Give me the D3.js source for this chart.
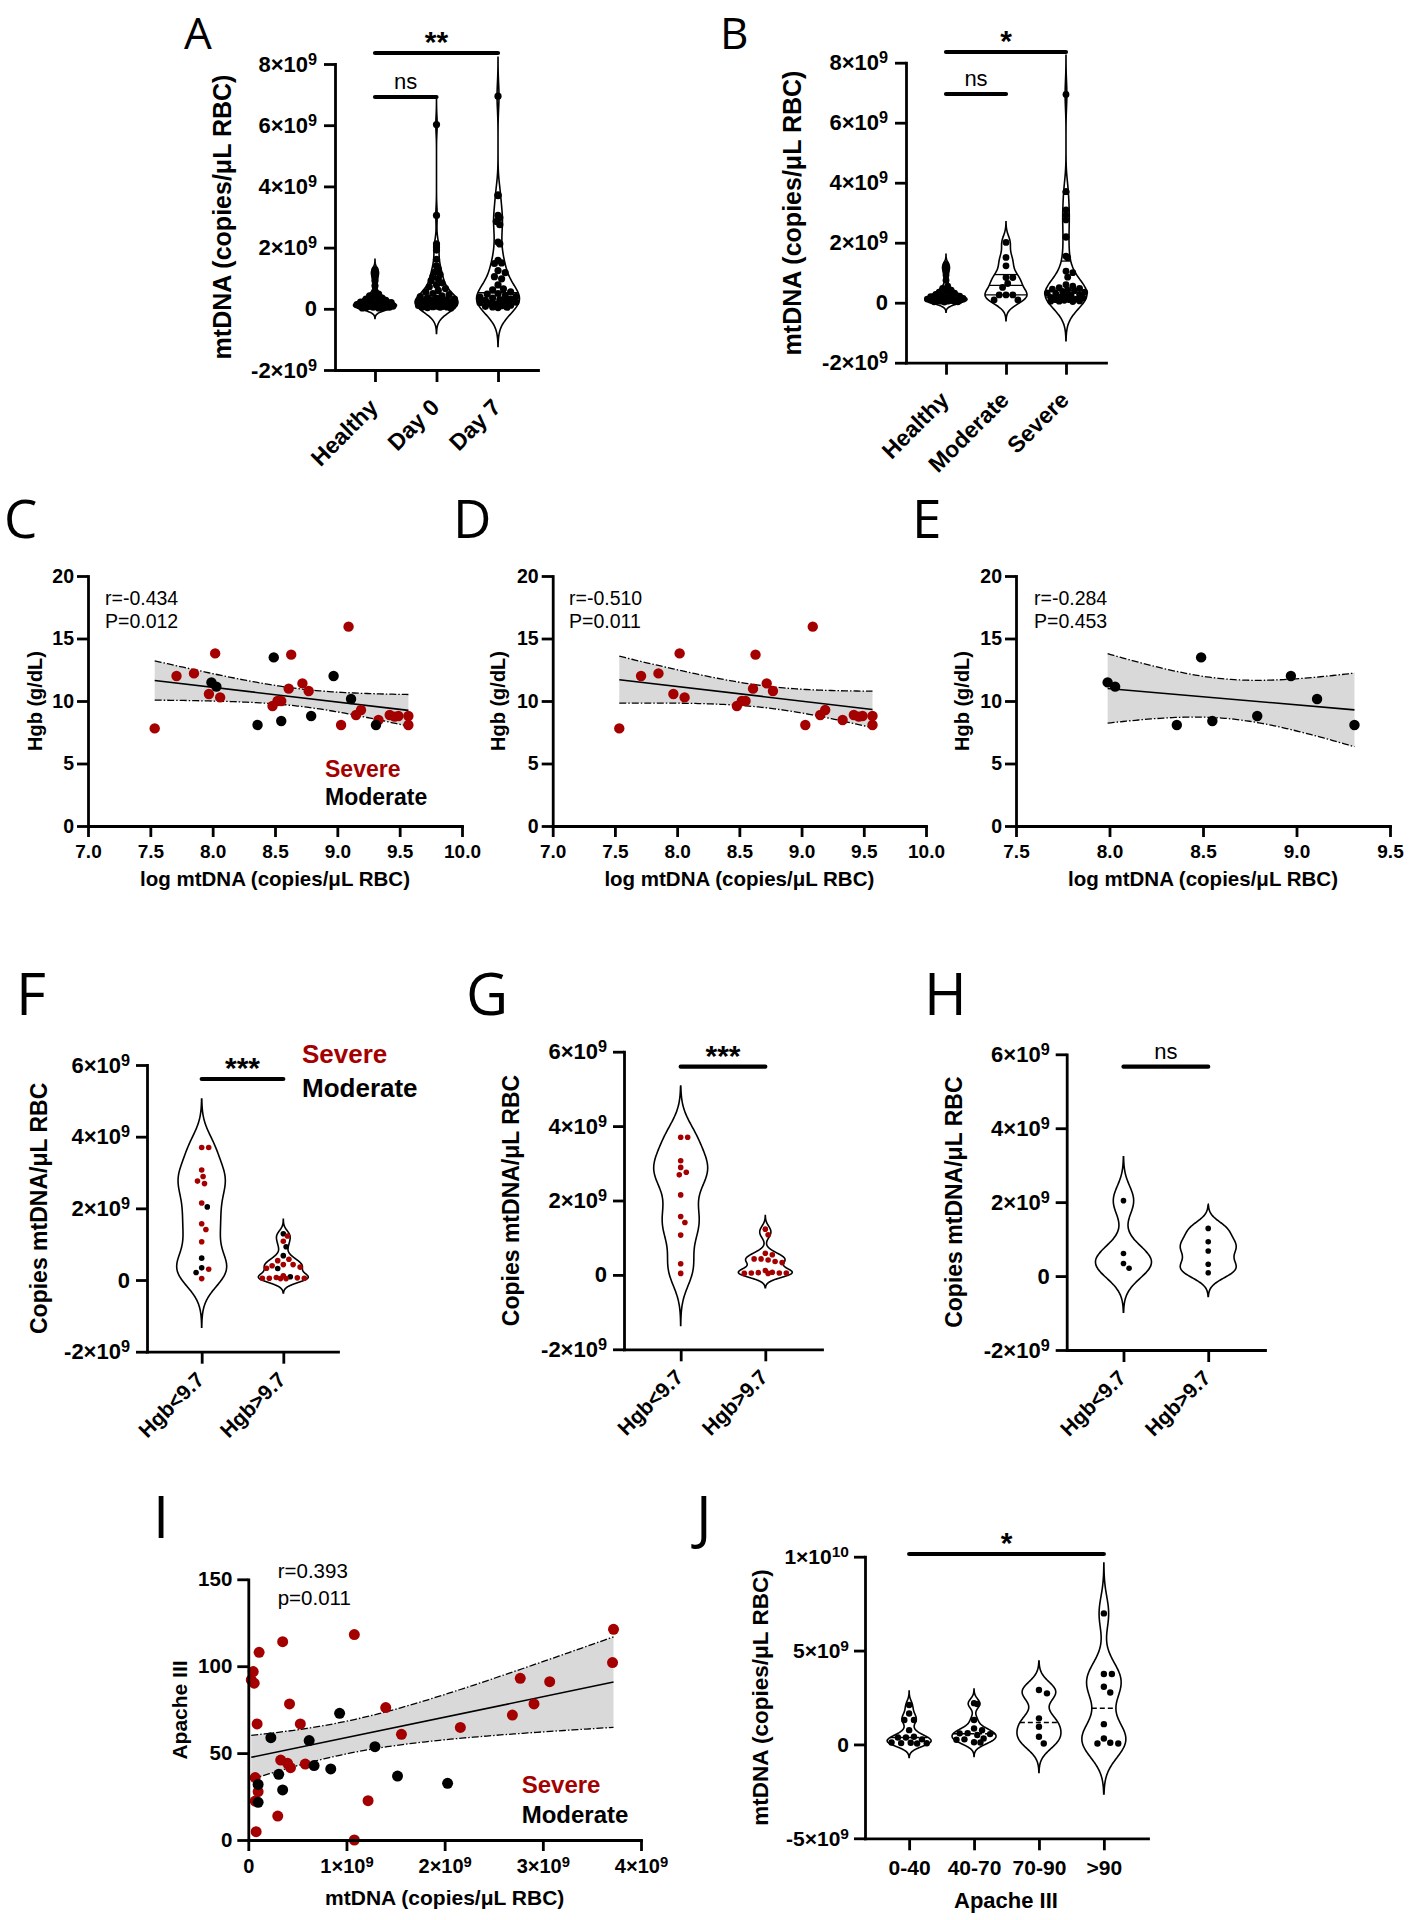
<!DOCTYPE html>
<html><head><meta charset="utf-8">
<script src="https://cdn.jsdelivr.net/npm/d3@7"></script>
<style>
body{margin:0;background:#fff;}
svg{display:block;}
</style></head><body>
<script>
// ---------------- DATA (mtDNA values in units of 1e9 copies/µL RBC) ----------------
const catsA = ["Healthy", "Day 0", "Day 7"];
const healthyA = [1.28,1.22,1.15,1.05,0.92,0.75,0.55,0.48,0.42,0.38,0.35,0.32,0.30,0.28,0.25,0.22,0.20,0.18,0.16,0.15,0.14,0.12,0.11,0.10,0.09,0.08,0.08,0.07,0.06,0.05,0.05,0.04,0.03,0.03,0.02];
const day0A = [6.02,3.05,2.12,2.02,1.92,1.62,1.40,1.30,1.20,1.12,1.05,0.98,0.92,0.85,0.78,0.72,0.66,0.60,0.55,0.50,0.46,0.42,0.40,0.37,0.35,0.32,0.30,0.28,0.26,0.25,0.23,0.22,0.20,0.19,0.18,0.16,0.15,0.14,0.13,0.12,0.11,0.10,0.10,0.09,0.08,0.08,0.07,0.06,0.05,0.05,0.04,0.03];
const day7A = [6.95,3.72,3.70,3.05,2.98,2.85,2.75,2.18,2.12,1.58,1.50,1.48,1.25,1.18,1.05,0.98,0.78,0.65,0.62,0.55,0.50,0.48,0.42,0.40,0.38,0.35,0.32,0.30,0.28,0.25,0.22,0.20,0.18,0.15,0.12,0.10,0.08,0.06,0.05,0.04];

const catsB = ["Healthy", "Moderate", "Severe"];
const healthyB = healthyA;
const moderateB = [2.01,1.51,1.23,0.84,0.84,0.64,0.51,0.26,0.26,0.26,0.09,0.09];
const severeB = [6.94,3.70,3.70,3.09,2.92,2.76,2.20,2.18,1.55,1.50,1.05,1.00,0.85,0.60,0.55,0.50,0.48,0.45,0.42,0.40,0.38,0.35,0.32,0.30,0.28,0.25,0.22,0.20,0.18,0.15,0.12,0.10,0.10,0.08,0.06,0.05,0.05,0.04];

const mtTicks8 = [-2, 0, 2, 4, 6, 8];
const mtTickLabels8 = ["-2×10^9", "0", "2×10^9", "4×10^9", "6×10^9", "8×10^9"];

// C/D/E : log mtDNA vs Hgb
const severeLogMt = [7.535,7.71,7.85,7.97,8.02,8.06,8.48,8.52,8.55,8.61,8.63,8.72,8.77,9.03,9.09,9.15,9.19,9.33,9.42,9.46,9.49,9.57,9.57];
const severeHgb   = [7.81,12.0,12.21,10.56,13.81,10.29,9.6,10.0,10.0,10.99,13.71,11.41,10.8,8.08,15.95,8.88,9.28,8.48,8.88,8.75,8.8,8.8,8.08];
const moderateLogMt = [7.99,8.03,8.36,8.49,8.55,8.79,8.97,9.11,9.31];
const moderateHgb   = [11.49,11.15,8.08,13.49,8.4,8.8,12.0,10.16,8.08];
const hgbTicks = [0, 5, 10, 15, 20];
const logTicksCD = [7.0, 7.5, 8.0, 8.5, 9.0, 9.5, 10.0];
const logTicksE = [7.5, 8.0, 8.5, 9.0, 9.5];
const statsC = ["r=-0.434", "P=0.012"];
const statsD = ["r=-0.510", "P=0.011"];
const statsE = ["r=-0.284", "P=0.453"];

// F/G/H : Hgb groups
const catsHgb = ["Hgb<9.7", "Hgb>9.7"];
const severeLowHgb  = [3.70,3.70,3.07,2.89,2.76,2.69,2.15,1.57,1.41,1.07,0.30,0.04];
const severeHighHgb = [1.23,1.08,0.58,0.54,0.43,0.43,0.40,0.36,0.33,0.12,0.07,0.06,0.05,0.05,0.04,0.04,0.05];
const moderateLowHgb  = [2.04,0.61,0.34,0.21];
const moderateHighHgb = [1.29,0.93,0.68,0.32,0.09];
const mtTicks6 = [-2, 0, 2, 4, 6];
const mtTickLabels6 = ["-2×10^9", "0", "2×10^9", "4×10^9", "6×10^9"];

// I : mtDNA vs Apache III
const iSevereX = [3.72,3.71,2.77,3.07,2.69,2.91,2.16,1.56,1.40,1.08,1.22,1.08,0.58,0.53,0.42,0.35,0.11,0.05,0.03,0.06,0.09,0.33,0.40,0.43,0.07,0.10,0.07,0.30,0.08];
const iSevereY = [121.2,102.1,93.0,91.1,71.9,78.3,64.8,60.8,76.2,118.2,22.6,0,43.7,66.8,78.3,114.1,108.0,96.9,92.1,90.2,66.8,46.0,44.1,41.6,35.9,27.8,22.4,13.8,4.8];
const iModerateX = [0.93,0.23,0.62,1.29,0.67,0.84,1.52,2.03,0.31,0.35,0.10,0.10];
const iModerateY = [72.9,58.9,57.2,53.7,42.8,40.9,36.8,32.6,37.8,28.8,32.0,21.7];
const apacheTicks = [0, 50, 100, 150];
const mtTicksI = [0, 1, 2, 3, 4];
const mtTickLabelsI = ["0", "1×10^9", "2×10^9", "3×10^9", "4×10^9"];
const statsI = ["r=0.393", "p=0.011"];

// J : Apache III groups
const catsJ = ["0-40", "40-70", "70-90", ">90"];
const j0_40 = [2.1,1.65,1.3,1.3,0.76,0.41,0.37,0.37,0.27,0.1,0.09,0.07,0.06,0.05];
const j40_70 = [2.2,2.15,1.3,0.85,0.76,0.6,0.59,0.55,0.5,0.32,0.27,0.25,0.12,0.1];
const j70_90 = [2.9,2.72,1.39,0.94,0.41,0.05];
const j90 = [6.98,3.75,3.75,3.07,2.77,1.08,0.32,0.09,0.05,0.05];
const mtTicksJ = [-5, 0, 5, 10];
const mtTickLabelsJ = ["-5×10^9", "0", "5×10^9", "1×10^10"];

// ---------------- DRAWING ----------------
const RED = "#a50000", BLK = "#000";
const FONT = '"Liberation Sans", Arial, Helvetica, sans-serif';
const LFONT = '"Open Sans", "Noto Sans", sans-serif';
const svg = d3.select("body").append("svg").attr("width", 1409).attr("height", 1920);

function supText(sel, str) {
  const p = str.split("^");
  sel.text(null);
  sel.append("tspan").text(p[0]);
  if (p.length > 1) sel.append("tspan").attr("dy", "-0.42em").attr("font-size", "0.74em").text(p[1]);
}
function letter(t, x, y, fs) {
  svg.append("text").attr("x", x).attr("y", y).attr("font-family", LFONT).attr("font-size", fs).attr("fill", "#000").text(t);
}
function styleAxis(g, fs) {
  g.attr("font-family", FONT).attr("font-size", fs).attr("font-weight", "bold");
  g.select(".domain").attr("stroke", BLK).attr("stroke-width", 2.8).attr("stroke-linecap", "square");
  g.selectAll(".tick line").attr("stroke", BLK).attr("stroke-width", 2.8);
  g.selectAll(".tick text").attr("fill", BLK);
}
function yAxis(y, x0, ticks, labels, fs, pad) {
  const g = svg.append("g").attr("transform", `translate(${x0},0)`)
    .call(d3.axisLeft(y).tickValues(ticks).tickSizeInner(11).tickSizeOuter(0).tickPadding(pad));
  styleAxis(g, fs);
  g.selectAll(".tick text").each(function(d, i) { supText(d3.select(this), labels[i]); });
}
function xAxisNum(x, y0, ticks, labels, fs, ty) {
  const g = svg.append("g").attr("transform", `translate(0,${y0})`)
    .call(d3.axisBottom(x).tickValues(ticks).tickSizeInner(11).tickSizeOuter(0));
  styleAxis(g, fs);
  g.selectAll(".tick text").attr("y", ty).attr("dy", 0).each(function(d, i) { supText(d3.select(this), labels[i]); });
}
function xAxisCat(x, y0, fs, rotate, off) {
  const g = svg.append("g").attr("transform", `translate(0,${y0})`)
    .call(d3.axisBottom(x).tickSizeInner(12).tickSizeOuter(0));
  styleAxis(g, fs);
  if (rotate) {
    g.selectAll(".tick text").attr("x", 0).attr("y", 0).attr("dy", "0.35em")
      .attr("text-anchor", "end").attr("transform", `translate(-2,${off}) rotate(-45)`);
  } else {
    g.selectAll(".tick text").attr("y", off).attr("dy", 0);
  }
}
function yTitle(t, cx, cy, fs) {
  svg.append("text").attr("transform", `translate(${cx},${cy}) rotate(-90)`).attr("dy", "0.35em")
    .attr("text-anchor", "middle").attr("font-family", FONT).attr("font-weight", "bold").attr("font-size", fs).text(t);
}
function xTitle(t, cx, by, fs) {
  svg.append("text").attr("x", cx).attr("y", by).attr("text-anchor", "middle")
    .attr("font-family", FONT).attr("font-weight", "bold").attr("font-size", fs).text(t);
}
function sig(x1, x2, y, label) {
  svg.append("line").attr("x1", x1).attr("x2", x2).attr("y1", y).attr("y2", y)
    .attr("stroke", BLK).attr("stroke-width", 4.2).attr("stroke-linecap", "round");
  const star = label.includes("*");
  svg.append("text").attr("x", (x1 + x2) / 2).attr("y", star ? y - 1 : y - 8).attr("text-anchor", "middle")
    .attr("font-family", FONT).attr("font-size", star ? 30 : 22).attr("font-weight", star ? "bold" : "normal").text(label);
}
function legend(x, y1, y2, fs) {
  svg.append("text").attr("x", x).attr("y", y1).attr("font-family", FONT).attr("font-weight", "bold").attr("font-size", fs).attr("fill", RED).text("Severe");
  svg.append("text").attr("x", x).attr("y", y2).attr("font-family", FONT).attr("font-weight", "bold").attr("font-size", fs).attr("fill", BLK).text("Moderate");
}
function stats(lines, x, y1, y2, fs) {
  [y1, y2].forEach((yy, i) => svg.append("text").attr("x", x).attr("y", yy).attr("font-family", FONT).attr("font-size", fs).text(lines[i]));
}

// beeswarm placement inside the violin
function swarm(pts, y, cx, r, hw, sep) {
  const placed = [];
  const sorted = pts.slice().sort((a, b) => b.v - a.v);
  const step = r * 0.5;
  for (const p of sorted) {
    const py = y(p.v);
    const lim = Math.max(0, hw(p.v) - r * 0.6);
    let best = 0, bestScore = -Infinity;
    outer:
    for (let k = 0; k * step <= lim + 1e-6; k++) {
      for (const s of (k === 0 ? [1] : [1, -1])) {
        const dx = s * k * step;
        let minD = Infinity;
        for (const q of placed) { const d = Math.hypot(q.x - (cx + dx), q.y - py); if (d < minD) minD = d; }
        if (minD >= sep) { best = dx; bestScore = Infinity; break outer; }
        if (minD > bestScore) { bestScore = minD; best = dx; }
      }
    }
    placed.push({ x: cx + best, y: py, c: p.c });
  }
  return placed;
}

function violins(cfg) {
  cfg.groups.forEach(gr => {
    const vals = gr.pts.map(p => p.v);
    const n = vals.length, sd = d3.deviation(vals), h = 0.62 * sd * Math.pow(n, -0.2);
    const lo = d3.min(vals) - 3 * h, hi = d3.max(vals) + 3 * h;
    const K = v => d3.sum(vals, xv => Math.exp(-0.5 * ((v - xv) / h) ** 2));
    const samples = d3.range(201).map(i => lo + (hi - lo) * i / 200);
    const maxD = d3.max(samples, K);
    const hw = v => (v < lo || v > hi) ? 0 : K(v) / maxD * cfg.halfW;
    const cx = cfg.x(gr.cat);
    const area = d3.area().y(v => cfg.y(v)).x0(v => cx - hw(v)).x1(v => cx + hw(v)).curve(d3.curveBasis);
    svg.append("path").attr("d", area(samples)).attr("fill", "#fff").attr("stroke", BLK).attr("stroke-width", 1.6);
    const sv = vals.slice().sort(d3.ascending);
    if (cfg.lines === "quart") {
      [0.25, 0.5, 0.75].forEach(q => {
        const v = d3.quantile(sv, q);
        svg.append("line").attr("x1", cx - hw(v)).attr("x2", cx + hw(v)).attr("y1", cfg.y(v)).attr("y2", cfg.y(v))
          .attr("stroke", BLK).attr("stroke-width", 1.3);
      });
    } else if (cfg.lines === "median") {
      const v = d3.quantile(sv, 0.5);
      svg.append("line").attr("x1", cx - hw(v)).attr("x2", cx + hw(v)).attr("y1", cfg.y(v)).attr("y2", cfg.y(v))
        .attr("stroke", BLK).attr("stroke-width", 1.4).attr("stroke-dasharray", "5,3");
    }
    const placed = swarm(gr.pts, cfg.y, cx, cfg.r, hw, cfg.sep);
    placed.forEach(p => svg.append("circle").attr("cx", p.x).attr("cy", p.y).attr("r", cfg.r).attr("fill", p.c));
  });
}

function tcrit(df) {
  const z = 1.959964;
  return z + (z ** 3 + z) / (4 * df) + (5 * z ** 5 + 16 * z ** 3 + 3 * z) / (96 * df * df)
    + (3 * z ** 7 + 19 * z ** 5 + 17 * z ** 3 - 15 * z) / (384 * df ** 3);
}
function scatterPanel(cfg) {
  const xs = [].concat(...cfg.sets.map(s => s.xs)), ys = [].concat(...cfg.sets.map(s => s.ys));
  const n = xs.length, mx = d3.mean(xs), my = d3.mean(ys);
  let sxx = 0, sxy = 0;
  xs.forEach((xv, i) => { sxx += (xv - mx) ** 2; sxy += (xv - mx) * (ys[i] - my); });
  const b = sxy / sxx, a = my - b * mx;
  const sse = d3.sum(xs, (xv, i) => (ys[i] - a - b * xv) ** 2);
  const s = Math.sqrt(sse / (n - 2)), t = tcrit(n - 2);
  const ci = xv => t * s * Math.sqrt(1 / n + (xv - mx) ** 2 / sxx);
  const x0 = d3.min(xs), x1 = d3.max(xs);
  const grid = d3.range(81).map(i => x0 + (x1 - x0) * i / 80);
  svg.append("path").attr("d", d3.area().x(v => cfg.x(v)).y0(v => cfg.y(a + b * v - ci(v))).y1(v => cfg.y(a + b * v + ci(v)))(grid))
    .attr("fill", "#d9d9d9");
  [1, -1].forEach(sg => svg.append("path").attr("d", d3.line().x(v => cfg.x(v)).y(v => cfg.y(a + b * v + sg * ci(v)))(grid))
    .attr("fill", "none").attr("stroke", BLK).attr("stroke-width", 1.3).attr("stroke-dasharray", "7,2,1.5,2"));
  svg.append("line").attr("x1", cfg.x(x0)).attr("x2", cfg.x(x1)).attr("y1", cfg.y(a + b * x0)).attr("y2", cfg.y(a + b * x1))
    .attr("stroke", BLK).attr("stroke-width", 1.6);
  cfg.sets.forEach(st => st.xs.forEach((xv, i) =>
    svg.append("circle").attr("cx", cfg.x(xv)).attr("cy", cfg.y(st.ys[i])).attr("r", cfg.r).attr("fill", st.color)));
}
const pts = (arr, c) => arr.map(v => ({ v, c }));

// ---------- Panel A ----------
{
  const y = d3.scaleLinear().domain([-2, 8]).range([370, 64]);
  const x = d3.scalePoint().domain(catsA).range([335, 538]).padding(0.65);
  violins({ x, y, halfW: 21.5, r: 3.6, sep: 6.4, lines: "quart",
    groups: [{ cat: catsA[0], pts: pts(healthyA, BLK) }, { cat: catsA[1], pts: pts(day0A, BLK) }, { cat: catsA[2], pts: pts(day7A, BLK) }] });
  yAxis(y, 335, mtTicks8, mtTickLabels8, 22, 7);
  xAxisCat(x, 370, 23, true, 33);
  yTitle("mtDNA (copies/μL RBC)", 222, 217, 25);
  sig(x(catsA[0]), x(catsA[2]), 53, "**");
  sig(x(catsA[0]), x(catsA[1]), 97, "ns");
  letter("A", 184, 49, 44);
}
// ---------- Panel B ----------
{
  const y = d3.scaleLinear().domain([-2, 8]).range([362.7, 62.7]);
  const x = d3.scalePoint().domain(catsB).range([906, 1106]).padding(0.667);
  violins({ x, y, halfW: 21, r: 3.4, sep: 6.2, lines: "quart",
    groups: [{ cat: catsB[0], pts: pts(healthyB, BLK) }, { cat: catsB[1], pts: pts(moderateB, BLK) }, { cat: catsB[2], pts: pts(severeB, BLK) }] });
  yAxis(y, 906, mtTicks8, mtTickLabels8, 22, 7);
  xAxisCat(x, 362.7, 23, true, 33);
  yTitle("mtDNA (copies/μL RBC)", 792, 213, 25);
  sig(x(catsB[0]), x(catsB[2]), 52, "*");
  sig(x(catsB[0]), x(catsB[1]), 94, "ns");
  letter("B", 720, 49, 44);
}
// ---------- Panels C, D, E ----------
function hgbPanel(x, x0, ticks, sets, titleX, statsX, st, L, LX) {
  const y = d3.scaleLinear().domain([0, 20]).range([826, 576]);
  scatterPanel({ x, y, r: 5.2, sets });
  yAxis(y, x0, hgbTicks, hgbTicks.map(String), 19.5, 3);
  xAxisNum(x, 826, ticks, ticks.map(d3.format(".1f")), 19, 32);
  yTitle("Hgb (g/dL)", titleX, 701, 20);
  xTitle("log mtDNA (copies/μL RBC)", (x.range()[0] + x.range()[1]) / 2, 886, 20.5);
  stats(st, statsX, 605, 628, 19.5);
  letter(L, LX, 538, 53);
}
hgbPanel(d3.scaleLinear().domain([7, 10]).range([88, 462]), 88, logTicksCD,
  [{ xs: severeLogMt, ys: severeHgb, color: RED }, { xs: moderateLogMt, ys: moderateHgb, color: BLK }], 35, 105, statsC, "C", 4);
legend(325, 777, 805, 23);
hgbPanel(d3.scaleLinear().domain([7, 10]).range([552.7, 926]), 552.7, logTicksCD,
  [{ xs: severeLogMt, ys: severeHgb, color: RED }], 498, 569, statsD, "D", 453);
hgbPanel(d3.scaleLinear().domain([7.5, 9.5]).range([1016, 1390]), 1016, logTicksE,
  [{ xs: moderateLogMt, ys: moderateHgb, color: BLK }], 962, 1034, statsE, "E", 912);

// ---------- Panels F, G, H ----------
function hgbViolin(x0, x1, yr, halfW, groups, titleX, sigY, sigLabel, L, LX) {
  const y = d3.scaleLinear().domain([-2, 6]).range(yr);
  const x = d3.scalePoint().domain(catsHgb).range([x0, x1]).padding(0.67);
  violins({ x, y, halfW, r: 2.8, sep: 6.6, lines: "none", groups });
  yAxis(y, x0, mtTicks6, mtTickLabels6, 22, 6);
  xAxisCat(x, yr[0], 21, true, 24);
  yTitle("Copies mtDNA/μL RBC", titleX, (yr[0] + yr[1]) / 2, 23);
  sig(x(catsHgb[0]), x(catsHgb[1]), sigY, sigLabel);
  letter(L, LX, 1015, 58);
}
hgbViolin(147, 338, [1351.7, 1065], 25,
  [{ cat: catsHgb[0], pts: pts(severeLowHgb, RED).concat(pts(moderateLowHgb, BLK)) },
   { cat: catsHgb[1], pts: pts(severeHighHgb, RED).concat(pts(moderateHighHgb, BLK)) }], 39, 1079, "***", "F", 16);
legend(302, 1063, 1097, 26);
hgbViolin(624, 822, [1349.3, 1051.7], 27,
  [{ cat: catsHgb[0], pts: pts(severeLowHgb, RED) }, { cat: catsHgb[1], pts: pts(severeHighHgb, RED) }], 511, 1066.7, "***", "G", 466);
hgbViolin(1066.7, 1265, [1350, 1054.3], 28,
  [{ cat: catsHgb[0], pts: pts(moderateLowHgb, BLK) }, { cat: catsHgb[1], pts: pts(moderateHighHgb, BLK) }], 954, 1066.7, "ns", "H", 924);

// ---------- Panel I ----------
{
  const x = d3.scaleLinear().domain([0, 4]).range([248.3, 641]);
  const y = d3.scaleLinear().domain([0, 150]).range([1840, 1579.3]);
  scatterPanel({ x, y, r: 5.5, sets: [{ xs: iSevereX, ys: iSevereY, color: RED }, { xs: iModerateX, ys: iModerateY, color: BLK }] });
  yAxis(y, 248.3, apacheTicks, apacheTicks.map(String), 20.5, 5);
  xAxisNum(x, 1840, mtTicksI, mtTickLabelsI, 20, 33);
  yTitle("Apache III", 180, 1710, 21);
  xTitle("mtDNA (copies/μL RBC)", 444.7, 1905, 21);
  stats(statsI, 277.7, 1578, 1605, 20.5);
  legend(521.7, 1793, 1823, 24);
  letter("I", 153, 1538, 58);
}
// ---------- Panel J ----------
{
  const y = d3.scaleLinear().domain([-5, 10]).range([1838.3, 1556.7]);
  const x = d3.scalePoint().domain(catsJ).range([865, 1148]).padding(0.68);
  violins({ x, y, halfW: 22, r: 3.2, sep: 7.6, lines: "median",
    groups: [j0_40, j40_70, j70_90, j90].map((a, i) => ({ cat: catsJ[i], pts: pts(a, BLK) })) });
  yAxis(y, 865, mtTicksJ, mtTickLabelsJ, 21, 5);
  xAxisCat(x, 1838.3, 21, false, 37);
  yTitle("mtDNA (copies/μL RBC)", 760, 1697.5, 22.5);
  xTitle("Apache III", 1006, 1908, 22);
  sig(x(catsJ[0]), x(catsJ[3]), 1554, "*");
  letter("J", 696, 1538, 58);
}
</script>
</body></html>
